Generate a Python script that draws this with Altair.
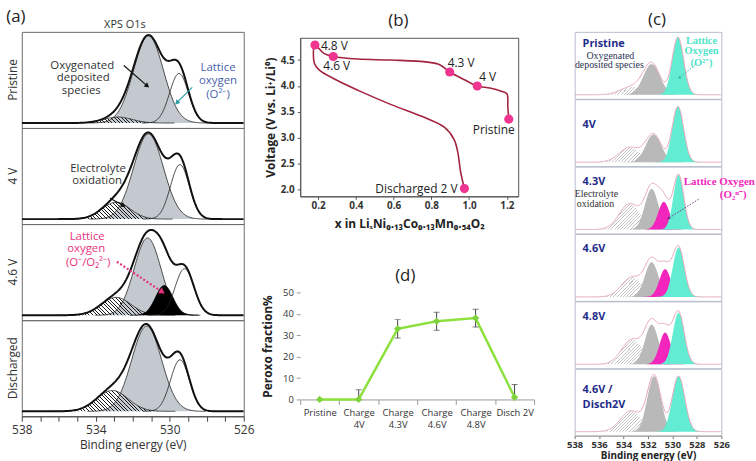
import math
import altair as alt
import numpy as np
import pandas as pd

SANS = "Open Sans"
SERIF = "Liberation Serif"

# ---------------- (a) XPS O1s fitted components: (centre eV, height, FWHM eV) ----------------
A_STATES = ["Pristine", "4 V", "4.6 V", "Discharged"]
A_ELECTROLYTE = [(532.8, 6, 1.8), (532.9, 17, 1.8), (532.9, 18, 1.9), (533.1, 21, 2.0)]
A_DEPOSITED = [(531.15, 88, 1.9), (531.15, 86, 1.9), (531.2, 78, 1.7), (531.25, 86, 1.9)]
A_PEROXO = [None, None, (530.3, 30, 1.1), None]
A_LATTICE = [(529.5, 50, 1.2), (529.45, 55, 1.2), (529.2, 47, 1.2), (529.45, 52, 1.2)]
A_TICKS = list(range(526, 539))

# ---------------- (c) XPS O1s fitted components ----------------
C_STATES = [["Pristine"], ["4V"], ["4.3V"], ["4.6V"], ["4.8V"], ["4.6V /", "Disch2V"]]
C_ELECTROLYTE = [(533.3, 8, 2.2), (533.5, 15, 2.0), (533.5, 26, 2.0), (533.3, 20, 2.0), (533.3, 25, 2.0), (533.4, 21, 2.0)]
C_DEPOSITED = [(531.7, 31, 1.6), (531.55, 28, 1.5), (531.7, 41, 1.3), (531.7, 35, 1.3), (531.7, 40, 1.3), (531.5, 56, 1.3)]
C_PEROXO = [None, None, (530.7, 28, 1.1), (530.6, 28, 1.1), (530.6, 32, 1.1), None]
C_LATTICE = [(529.55, 58, 1.1), (529.55, 56, 1.1), (529.5, 55, 1.0), (529.5, 50, 1.1), (529.5, 52, 1.1), (529.5, 56, 1.2)]
C_TICKS = [526, 528, 530, 532, 534, 536, 538]

# ---------------- (b) voltage profile ----------------
B_CHARGE_X = [1.21, 1.205, 1.2, 1.17, 1.11, 1.043, 0.975, 0.897, 0.844, 0.78, 0.59, 0.41, 0.28, 0.23, 0.183]
B_CHARGE_V = [3.36, 3.6, 3.85, 3.9, 3.96, 4.0, 4.12, 4.27, 4.41, 4.46, 4.5, 4.52, 4.57, 4.63, 4.79]
B_DISCH_X = [0.18, 0.205, 0.294, 0.415, 0.587, 0.765, 0.87, 0.92, 0.94, 0.955, 0.975]
B_DISCH_V = [4.44, 4.31, 4.12, 3.91, 3.64, 3.39, 3.2, 2.97, 2.72, 2.34, 2.02]
B_MARK_X = [1.21, 1.043, 0.897, 0.28, 0.183, 0.975]
B_MARK_V = [3.36, 4.0, 4.27, 4.57, 4.79, 2.02]
B_MARK_LABEL = ["Pristine", "4 V", "4.3 V", "4.6 V", "4.8 V", "Discharged 2 V"]
B_X_TICKS = [0.2, 0.4, 0.6, 0.8, 1.0, 1.2]
B_Y_TICKS = [2.0, 2.5, 3.0, 3.5, 4.0, 4.5]

# ---------------- (d) peroxo fraction ----------------
D_STAGES = ["Pristine", "Charge|4V", "Charge|4.3V", "Charge|4.6V", "Charge|4.8V", "Disch 2V"]
D_PEROXO = [0, 0, 33, 36.5, 38, 1]
D_ERR = [0, 4.5, 4.3, 4.2, 4.2, 6]
D_Y_TICKS = [0, 10, 20, 30, 40, 50]

# ---------------- helpers ----------------
BE = np.round(526.0 + 0.05 * np.arange(241), 3)
ONE = pd.DataFrame({"k": [0]})
PX_A = 224 / 12.0
PX_C = 148 / 12.0


def gauss(peak, x):
    c, h, w = peak
    return h * np.exp(-4.0 * math.log(2.0) * (x - c) ** 2 / w ** 2)


def peak_frame(peak):
    c, h, w = peak
    x = BE[(BE >= c - 1.7 * w) & (BE <= c + 1.7 * w)]
    return pd.DataFrame({"be": x, "y": gauss(peak, x)})


def hatch(peak, px_per_ev, period, line, gap, frac, falling):
    c, h, w = peak
    W = 3.4 * w * px_per_ev
    k = h / W
    s = (1 + k) / (1 + k * k)
    n = max(1, int(round(W * (1 + k) / period)))
    stops = []
    for i in range(n):
        a, b, e = i / n, (i + frac) / n, (i + 1) / n
        stops += [alt.GradientStop(color=line, offset=a), alt.GradientStop(color=line, offset=b),
                  alt.GradientStop(color=gap, offset=b), alt.GradientStop(color=gap, offset=e)]
    if falling:
        return alt.LinearGradient(gradient="linear", stops=stops, x1=0, y1=1, x2=s, y2=1 - k * s)
    return alt.LinearGradient(gradient="linear", stops=stops, x1=0, y1=0, x2=s, y2=k * s)


def text(t, x, y, size=11, color="#333333", font=SANS, weight="normal", align="center", angle=0):
    kw = dict(text=t, fontSize=size, color=color, font=font, fontWeight=weight, align=align, baseline="middle")
    if angle:
        kw["angle"] = angle
    return alt.Chart(ONE).mark_text(**kw).encode(x=alt.value(x), y=alt.value(y))


def anchor(x, y, align):
    # invisible layout anchor, fixes the outer extent of a column
    return alt.Chart(ONE).mark_text(text=".", fontSize=1, opacity=0, align=align, baseline="top").encode(
        x=alt.value(x), y=alt.value(y))


def arrow(x1, y1, x2, y2, color, width=1.2, dash=None, head=30):
    kw = dict(color=color, strokeWidth=width)
    if dash:
        kw["strokeDash"] = dash
    line = alt.Chart(ONE).mark_rule(**kw).encode(
        x=alt.value(x1), y=alt.value(y1), x2=alt.value(x2), y2=alt.value(y2))
    ang = math.degrees(math.atan2(x2 - x1, -(y2 - y1))) % 360
    tip = alt.Chart(ONE).mark_point(shape="triangle", filled=True, color=color, size=head,
                                    angle=ang, opacity=1).encode(x=alt.value(x2), y=alt.value(y2))
    return [line, tip]


def xps_panel(comps, width, height, ydom, env_color, env_width, x_axis, frame, extras):
    xs = alt.Scale(domain=[526, 538], reverse=True, nice=False, zero=False)
    ys = alt.Scale(domain=ydom, nice=False, zero=False)
    X = alt.X("be:Q", scale=xs, axis=x_axis) if x_axis is not None else alt.X("be:Q", scale=xs, axis=None)
    Y = alt.Y("y:Q", scale=ys, axis=None)
    layers = []
    total = np.zeros_like(BE)
    for peak, fill, outline in comps:
        if peak is None:
            continue
        total = total + gauss(peak, BE)
        df = peak_frame(peak)
        if fill is not None:
            layers.append(alt.Chart(df).mark_area(color=fill, opacity=1, clip=True)
                          .encode(x=X, y=Y, y2=alt.datum(0)))
        if outline is not None:
            layers.append(alt.Chart(df).mark_line(color=outline, strokeWidth=0.8, clip=True)
                          .encode(x=X, y=Y))
    env = pd.DataFrame({"be": BE, "y": total})
    layers.append(alt.Chart(env).mark_line(color=env_color, strokeWidth=env_width, clip=True)
                  .encode(x=X, y=Y))
    return alt.layer(*layers, *extras).properties(
        width=width, height=height, view=alt.ViewBackground(stroke=frame, strokeWidth=1))


def spacer(h, extras=()):
    base = alt.Chart(ONE).mark_point(opacity=0).encode(x=alt.value(0), y=alt.value(0))
    return alt.layer(base, *extras).properties(width=10, height=h, view=alt.ViewBackground(stroke=None))


# ---------------- panel (a) ----------------
A_W, A_H = 224, 97
a_axis = alt.Axis(values=A_TICKS, labelExpr="datum.value % 4 == 2 ? datum.label : ''",
                  title="Binding energy (eV)", labelFont=SANS, labelFontSize=12, labelColor="#333",
                  titleFont=SANS, titleFontSize=12, titleFontWeight="normal", titleColor="#333",
                  tickSize=5, tickColor="#444", domainColor="#444", labelPadding=3, titlePadding=5,
                  grid=False, labelFlush=False, labelOverlap=False)

FS = 11.5
a_extras = [
    [text("Oxygenated", 61, 34, FS), text("deposited", 62, 47, FS), text("species", 60, 59.5, FS),
     *arrow(103, 34, 126, 54, "#111111"),
     text("Lattice", 198, 37, FS, "#4a5fae"), text("oxygen", 198, 50, FS, "#4a5fae"),
     text("(O²⁻)", 198, 63.5, FS, "#4a5fae"),
     *arrow(172, 56, 157, 71, "#2f9aa6")],
    [text("Electrolyte", 77, 41, FS), text("oxidation", 76, 54, FS),
     *arrow(89, 71, 102, 78, "#111111")],
    [text("Lattice", 66, 13, FS, "#e8327e"), text("oxygen", 65, 25.5, FS, "#e8327e"),
     text("(O⁻/O₂²⁻)", 67, 39, FS, "#e8327e"),
     *arrow(96, 38, 141, 68, "#e8327e", width=2.2, dash=[2, 2], head=45)],
    [],
]

a_panels = []
for i, state in enumerate(A_STATES):
    el = A_ELECTROLYTE[i]
    comps = [
        (A_DEPOSITED[i], "#c3c9cf", "#222222"),
        (el, hatch(el, PX_A, 3.6, "#1a1a1a", "rgba(255,255,255,0)", 0.28, True), "#222222"),
        (A_PEROXO[i], "#000000", "#000000"),
        (A_LATTICE[i], None, "#222222"),
    ]
    extras = list(a_extras[i]) + [text(state, -9, A_H / 2, 12, "#333", angle=270)]
    if i == 0:
        extras += [text("(a)", -6, -15, 17, "#222"), text("XPS O1s", 104, -7, 11, "#333"),
                   anchor(-20, -28, "left"), anchor(236, -28, "right")]
    a_panels.append(xps_panel(comps, A_W, A_H, [-5, 92], "#111111", 2.0,
                              a_axis if i == len(A_STATES) - 1 else None, "#6b6b6b", extras))
col_a = alt.vconcat(*a_panels, spacing=0, bounds="flush")

# ---------------- panel (c) ----------------
C_W, C_H = 148, 67.5
c_axis = alt.Axis(values=C_TICKS, format="d", title="Binding energy (eV)", labelFont=SANS,
                  labelFontSize=9.5, labelFontWeight="bold", labelColor="#333", titleFont=SANS,
                  titleFontSize=10, titleFontWeight="bold", titleColor="#222", tickSize=3,
                  tickColor="#777", domainColor="#999", labelPadding=1, titlePadding=2, grid=False,
                  labelFlush=False, labelOverlap=False)
C_LABEL_Y = [[12], [26], [16], [15.5], [16], [21.5, 36.5]]
NAVY = "#1f2d8a"
c_extras = [
    [text("Oxygenated", 36, 24, 10, "#2b3152", SERIF), text("deposited species", 35, 33, 10, "#2b3152", SERIF),
     text("Lattice", 128, 9, 10.5, "#4fe3c8", SERIF, "bold"), text("Oxygen", 128, 19, 10.5, "#4fe3c8", SERIF, "bold"),
     text("(O²⁻)", 128, 31, 10.5, "#4fe3c8", SERIF, "bold"),
     *arrow(122, 33, 106, 46, "#3fb8a8", width=1, dash=[1.5, 1.5], head=12)],
    [],
    [text("Lattice Oxygen", 146, 16, 11, "#f226bd", SERIF, "bold"),
     text("(O₂ⁿ⁻)", 160, 29, 11, "#f226bd", SERIF, "bold"),
     *arrow(125, 33, 95, 52, "#7a2f86", width=1, dash=[1.5, 1.5], head=14),
     text("Electrolyte", 22, 28, 10, "#333", SERIF), text("oxidation", 21, 38, 10, "#333", SERIF)],
    [], [], [],
]

c_panels = []
for i, lines in enumerate(C_STATES):
    el = C_ELECTROLYTE[i]
    comps = [
        (el, hatch(el, PX_C, 3.2, "#c4c4c4", "#ffffff", 0.32, False), None),
        (C_DEPOSITED[i], "#b9b9b9", None),
        (C_PEROXO[i], "#f226bd", None),
        (C_LATTICE[i], "#62edd2", None),
    ]
    extras = list(c_extras[i])
    for ln, yy in zip(lines, C_LABEL_Y[i]):
        extras.append(text(ln, 8, yy, 11, NAVY, SANS, "bold", align="left"))
    if i == 0:
        extras += [text("(c)", 83, -12, 17, "#222"), anchor(-8, -28, "left")]
    c_panels.append(xps_panel(comps, C_W, C_H, [-4, 63.5], "#e4a6b8", 1.0,
                              c_axis if i == len(C_STATES) - 1 else None, "#b7bccb", extras))
col_c = alt.vconcat(*c_panels, spacing=0, bounds="flush")

# ---------------- panel (b) ----------------
b_line = pd.DataFrame({"x": B_CHARGE_X + B_DISCH_X, "v": B_CHARGE_V + B_DISCH_V})
b_line["i"] = range(len(b_line))
b_marks = pd.DataFrame({"x": B_MARK_X, "v": B_MARK_V, "label": B_MARK_LABEL})

bxs = alt.Scale(domain=[0.105, 1.26], nice=False, zero=False)
bys = alt.Scale(domain=[1.87, 4.93], nice=False, zero=False)
BX = alt.X("x:Q", scale=bxs, axis=alt.Axis(
    values=B_X_TICKS, format=".1f", title="x in LiₓNi₀.₁₃Co₀.₁₃Mn₀.₅₄O₂", labelFont=SANS,
    labelFontWeight="bold", labelFontSize=10, labelColor="#333", titleFont=SANS,
    titleFontWeight="bold", titleFontSize=12, titleColor="#222", tickSize=3, labelPadding=1,
    titlePadding=8, grid=False, domainColor="#555", tickColor="#555", labelFlush=False,
    labelOverlap=False))
BY = alt.Y("v:Q", scale=bys, axis=alt.Axis(
    values=B_Y_TICKS, format=".1f", title="Voltage (V vs. Li⁺/Li⁰)", labelFont=SANS,
    labelFontWeight="bold", labelFontSize=10, labelColor="#333", titleFont=SANS,
    titleFontWeight="bold", titleFontSize=12, titleColor="#222", tickSize=3, labelPadding=3,
    titlePadding=3, grid=False, domainColor="#555", tickColor="#555", labelFlush=False,
    labelOverlap=False))

b_layers = [
    alt.Chart(b_line).mark_line(color="#a3243f", strokeWidth=1.6, interpolate="catmull-rom")
    .encode(x=BX, y=BY, order="i:Q"),
    alt.Chart(b_marks).mark_circle(color="#f03590", size=85, opacity=1).encode(x=BX, y=BY),
]
B_LABEL_STYLE = [("right", 6, 11), ("left", 2, -9), ("left", -2, -9), ("left", -10, 10),
                 ("left", 6, 1), ("right", -7, 0)]
for i, (al, ddx, ddy) in enumerate(B_LABEL_STYLE):
    b_layers.append(alt.Chart(b_marks.iloc[[i]]).mark_text(
        align=al, dx=ddx, dy=ddy, fontSize=12, font=SANS, color="#222", baseline="middle")
        .encode(x=BX, y=BY, text="label:N"))
b_layers.append(text("(b)", 99, -17, 17, "#222"))
chart_b = alt.layer(*b_layers).properties(width=220, height=160,
                                          view=alt.ViewBackground(stroke="#555", strokeWidth=1))

# ---------------- panel (d) ----------------
d_df = pd.DataFrame({"stage": D_STAGES, "val": D_PEROXO, "err": D_ERR})
d_df["lo"] = d_df["val"] - d_df["err"]
d_df["hi"] = d_df["val"] + d_df["err"]
d_err = d_df[d_df["err"] > 0]

DX = alt.X("stage:N", sort=D_STAGES, bandPosition=0.5,
           scale=alt.Scale(type="band", paddingInner=0, paddingOuter=0),
           axis=alt.Axis(title=None, labelAngle=0, labelExpr="split(datum.label, '|')",
                         tickBand="extent", labelFont=SANS, labelFontSize=9.5, labelColor="#333",
                         labelLineHeight=12, tickSize=5, tickColor="#999", domainColor="#999",
                         labelPadding=3, labelOverlap=False, grid=False))
dys = alt.Scale(domain=[0, 50], nice=False, zero=True)
d_yaxis = alt.Axis(
    values=D_Y_TICKS, title="Peroxo fraction%", labelFont=SANS, labelFontSize=9.5,
    labelColor="#333", titleFont=SANS, titleFontWeight="bold", titleFontSize=12, titleColor="#222",
    domain=False, tickSize=4, tickColor="#999", labelPadding=3, titlePadding=8, grid=False,
    labelOverlap=False, labelFlush=False)
DY = alt.Y("val:Q", scale=dys, axis=d_yaxis, title="Peroxo fraction%")
DLO = alt.Y("lo:Q", scale=dys, axis=d_yaxis, title="Peroxo fraction%")
DHI = alt.Y("hi:Q", scale=dys, axis=d_yaxis, title="Peroxo fraction%")

chart_d = alt.layer(
    alt.Chart(d_df).mark_line(color="#8ee03f", strokeWidth=2.5).encode(x=DX, y=DY),
    alt.Chart(d_err).mark_rule(color="#444", strokeWidth=1, clip=True).encode(
        x=DX, y=DLO, y2="hi:Q"),
    alt.Chart(d_err).mark_tick(color="#444", size=6, thickness=1, clip=True).encode(x=DX, y=DHI),
    alt.Chart(d_err).mark_tick(color="#444", size=6, thickness=1, clip=True).encode(x=DX, y=DLO),
    alt.Chart(d_df).mark_point(shape="diamond", filled=True, color="#7dd33a", size=55, opacity=1)
    .encode(x=DX, y=DY),
    text("(d)", 106, -17, 17, "#222"),
).properties(width=236, height=108, view=alt.ViewBackground(stroke=None))

col_b = alt.vconcat(spacer(6, [anchor(-42, -28, "left"), anchor(266, -28, "right")]),
                    chart_b, spacer(97), chart_d, spacing=0, bounds="flush")

# ---------------- assemble ----------------
chart = alt.hconcat(col_a, col_b, col_c, spacing=2).properties(
    padding={"left": 1, "top": 1, "right": 0, "bottom": 0},
    background="white",
).configure(font=SANS).configure_view(stroke=None)

chart.save("out.html", embed_options={"renderer": "svg", "actions": False})
